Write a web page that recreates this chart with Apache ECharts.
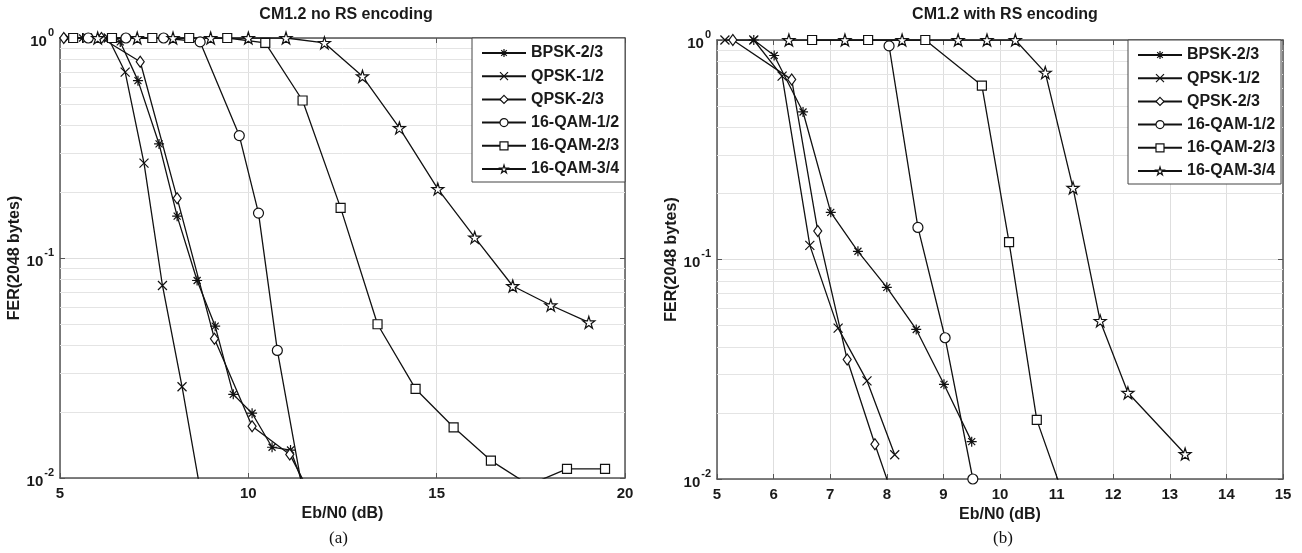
<!DOCTYPE html>
<html>
<head>
<meta charset="utf-8">
<script src="https://cdn.jsdelivr.net/npm/echarts/dist/echarts.min.js"></script>
<style>
  html, body { margin: 0; padding: 0; background: #fff; }
  #chart { width: 1302px; height: 553px; }
</style>
</head>
<body>
<div id="chart"></div>
<script>
// series names (same six modes in both panels)
const names = ['BPSK-2/3', 'QPSK-1/2', 'QPSK-2/3', '16-QAM-1/2', '16-QAM-2/3', '16-QAM-3/4']

// (a) CM1.2 no RS encoding  -> [Eb/N0 dB, FER]
const bpskA = [[5.6, 1], [6.1, 1], [6.6, 0.96], [7.07, 0.64], [7.63, 0.33], [8.11, 0.155], [8.64, 0.079], [9.12, 0.049], [9.6, 0.024], [10.1, 0.0197], [10.63, 0.0138], [11.12, 0.0134], [11.6, 0.008]]
const qpsk12A = [[5.23, 1], [5.73, 1], [6.28, 1], [6.73, 0.70], [7.23, 0.27], [7.72, 0.075], [8.24, 0.026], [8.74, 0.0085]]
const qpsk23A = [[5.1, 1], [6.1, 1], [7.13, 0.78], [8.11, 0.187], [9.1, 0.043], [10.1, 0.0172], [11.1, 0.0128], [12.1, 0.006]]
const qam12A = [[5.75, 1], [6.75, 1], [7.75, 1], [8.72, 0.96], [9.76, 0.36], [10.27, 0.16], [10.77, 0.038], [11.77, 0.0043]]
const qam23A = [[5.35, 1], [6.38, 1], [7.45, 1], [8.43, 1], [9.44, 1], [10.45, 0.95], [11.44, 0.52], [12.45, 0.169], [13.43, 0.050], [14.44, 0.0254], [15.45, 0.017], [16.44, 0.012], [17.45, 0.0093], [18.46, 0.011], [19.47, 0.011]]
const qam34A = [[6.0, 1], [7.05, 1], [8.0, 1], [9.0, 1], [10.0, 1], [11.0, 1], [12.02, 0.95], [13.03, 0.67], [14.01, 0.39], [15.03, 0.206], [16.01, 0.124], [17.02, 0.0746], [18.03, 0.061], [19.04, 0.051]]

// (b) CM1.2 with RS encoding
const bpskB = [[5.65, 1], [6.01, 0.85], [6.52, 0.47], [7.01, 0.164], [7.49, 0.109], [8.0, 0.0747], [8.52, 0.048], [9.01, 0.027], [9.5, 0.0148]]
const qpsk12B = [[5.14, 1], [5.65, 1], [6.15, 0.685], [6.64, 0.116], [7.14, 0.0487], [7.65, 0.028], [8.14, 0.0129]]
const qpsk23B = [[5.28, 1], [6.32, 0.66], [6.78, 0.135], [7.3, 0.035], [7.79, 0.0144], [8.27, 0.0063]]
const qam12B = [[8.04, 0.94], [8.55, 0.14], [9.03, 0.044], [9.52, 0.01]]
const qam23B = [[6.68, 1], [7.67, 1], [8.68, 1], [9.68, 0.62], [10.16, 0.12], [10.65, 0.0186], [11.15, 0.008]]
const qam34B = [[6.27, 1], [7.26, 1], [8.27, 1], [9.26, 1], [9.77, 1], [10.27, 1], [10.8, 0.71], [11.29, 0.212], [11.77, 0.0525], [12.26, 0.0247], [13.27, 0.013]]

// minor log grid lines (2..9 per decade)
const minorGrid = [0.02, 0.03, 0.04, 0.05, 0.06, 0.07, 0.08, 0.09, 0.2, 0.3, 0.4, 0.5, 0.6, 0.7, 0.8, 0.9]

// MATLAB-like markers (white fill, dark outline)
const symbols = [
  'path://M5,0L5,10M0,5L10,5M1.5,1.5L8.5,8.5M8.5,1.5L1.5,8.5',
  'path://M0,0L10,10M10,0L0,10',
  'diamond',
  'circle',
  'rect',
  'path://M50,0L61.2,34.55L97.55,34.55L68.2,55.9L79.4,90.45L50,69.1L20.6,90.45L31.8,55.9L2.45,34.55L38.8,34.55Z'
]
const sizes = [10, 9, [8, 11], 10, 9, 12]

const txt = '#1a1a1a'
const font = 'Liberation Sans, Arial, sans-serif'

const chart = echarts.init(document.getElementById('chart'))

function supLabel(v) {
  const e = Math.round(Math.log10(v))
  return '{b|10}{s|' + e + '}'
}

function xAxes(gi, max, interval) {
  return [
    {
      type: 'value', gridIndex: gi, min: 5, max: max, interval: interval,
      name: 'Eb/N0 (dB)', nameLocation: 'middle', nameGap: 28,
      nameTextStyle: { fontFamily: font, fontWeight: 'bold', fontSize: 16, color: txt },
      axisLine: { lineStyle: { color: '#555', width: 1.5 } },
      axisTick: { inside: true, length: 5, lineStyle: { color: '#555' } },
      axisLabel: { fontFamily: font, fontWeight: 'bold', fontSize: 15, color: txt, margin: 8 },
      splitLine: { show: true, lineStyle: { color: '#dedede', width: 1 } }
    },
    {
      type: 'value', gridIndex: gi, position: 'top', min: 5, max: max, interval: interval,
      axisLine: { lineStyle: { color: '#555', width: 1.5 } },
      axisTick: { inside: true, length: 5, lineStyle: { color: '#555' } },
      axisLabel: { show: false }, splitLine: { show: false }
    }
  ]
}

function yAxes(gi, gap) {
  return [
    {
      type: 'log', logBase: 10, gridIndex: gi, min: 0.01, max: 1,
      name: 'FER(2048 bytes)', nameLocation: 'middle', nameGap: gap,
      nameTextStyle: { fontFamily: font, fontWeight: 'bold', fontSize: 16, color: txt },
      axisLine: { lineStyle: { color: '#555', width: 1.5 } },
      axisTick: { inside: true, length: 5, lineStyle: { color: '#555' } },
      axisLabel: {
        formatter: supLabel, margin: 6,
        rich: {
          b: { fontFamily: font, fontWeight: 'bold', fontSize: 15, color: txt, lineHeight: 22, verticalAlign: 'bottom' },
          s: { fontFamily: font, fontWeight: 'bold', fontSize: 11, color: txt, lineHeight: 22, verticalAlign: 'top', padding: [0, 0, 0, 1] }
        }
      },
      splitLine: { show: true, lineStyle: { color: '#dedede', width: 1 } }
    },
    {
      type: 'log', logBase: 10, gridIndex: gi, position: 'right', min: 0.01, max: 1,
      axisLine: { lineStyle: { color: '#555', width: 1.5 } },
      axisTick: { inside: true, length: 5, lineStyle: { color: '#555' } },
      axisLabel: { show: false }, splitLine: { show: false }
    }
  ]
}

function makeSeries(list, xi, yi) {
  return list.map((data, i) => ({
    name: names[i],
    type: 'line',
    xAxisIndex: xi,
    yAxisIndex: yi,
    data: data,
    symbol: symbols[i],
    symbolSize: sizes[i],
    clip: true,
    z: 3,
    lineStyle: { color: '#111', width: 1.3 },
    itemStyle: { color: '#fff', borderColor: '#111', borderWidth: 1.2 },
    emphasis: { disabled: true },
    markLine: i === 0 ? {
      silent: true, symbol: 'none', z: 1,
      label: { show: false },
      lineStyle: { color: '#e4e4e4', width: 1, type: 'solid' },
      data: minorGrid.map(v => ({ yAxis: v }))
    } : undefined
  }))
}

function legend(left, top) {
  return {
    data: names, orient: 'vertical', left: left, top: top,
    padding: [7, 6, 5, 9], itemGap: 7.2, itemWidth: 44, itemHeight: 10,
    backgroundColor: '#fff', borderColor: '#444', borderWidth: 1,
    selectedMode: false,
    itemStyle: { color: '#fff', borderColor: '#111', borderWidth: 1.2 },
    textStyle: { fontFamily: font, fontWeight: 'bold', fontSize: 16, color: txt }
  }
}

chart.setOption({
  animation: false,
  backgroundColor: '#fff',
  title: [
    { text: 'CM1.2 no RS encoding', left: 341, top: 2, textAlign: 'center',
      textStyle: { fontFamily: font, fontWeight: 'bold', fontSize: 16, color: txt } },
    { text: 'CM1.2 with RS encoding', left: 1000, top: 2, textAlign: 'center',
      textStyle: { fontFamily: font, fontWeight: 'bold', fontSize: 16, color: txt } }
  ],
  grid: [
    { left: 60, right: 677, top: 38, bottom: 75 },
    { left: 717, right: 19, top: 40, bottom: 74 }
  ],
  legend: [legend(472, 38), legend(1128, 40)],
  xAxis: [...xAxes(0, 20, 5), ...xAxes(1, 15, 1)],
  yAxis: [...yAxes(0, 25), ...yAxes(1, 32)],
  series: [
    ...makeSeries([bpskA, qpsk12A, qpsk23A, qam12A, qam23A, qam34A], 0, 0),
    ...makeSeries([bpskB, qpsk12B, qpsk23B, qam12B, qam23B, qam34B], 2, 2)
  ],
  graphic: [
    { type: 'text', left: 329, top: 530, style: { text: '(a)', font: '17px "Liberation Serif", serif', fill: '#111' } },
    { type: 'text', left: 993, top: 530, style: { text: '(b)', font: '17px "Liberation Serif", serif', fill: '#111' } }
  ]
})
</script>
</body>
</html>
